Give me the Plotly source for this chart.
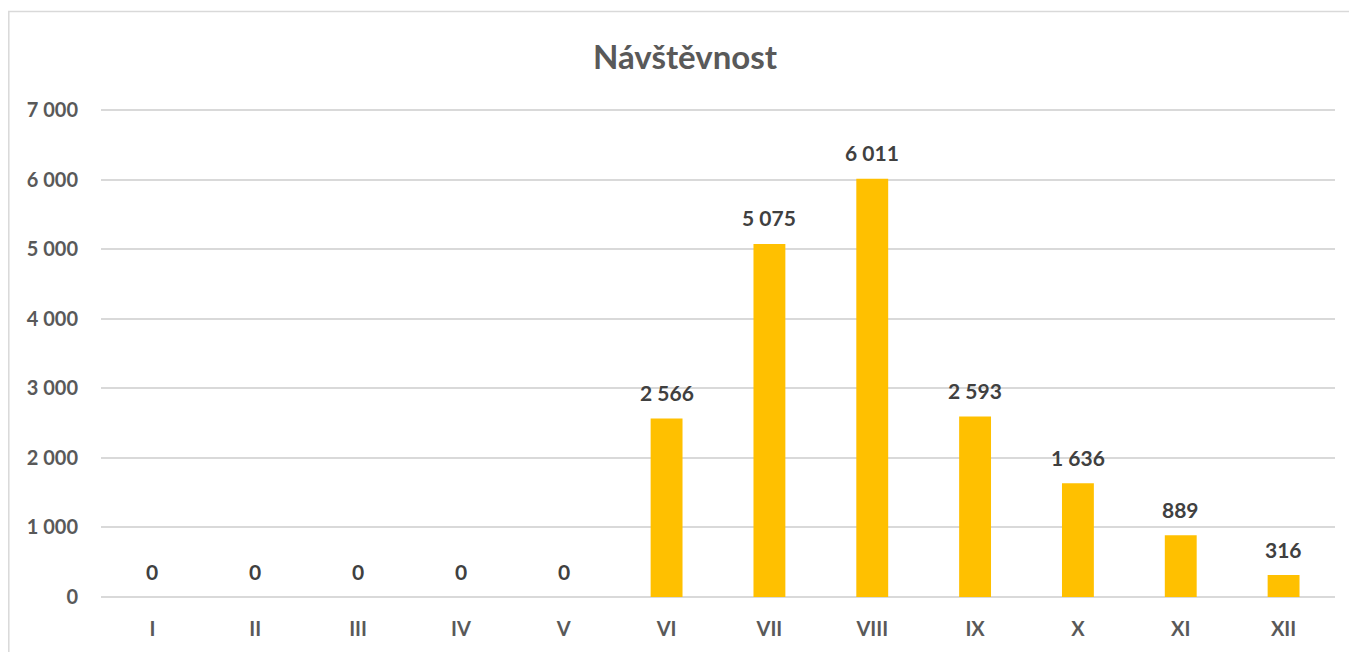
import plotly.graph_objects as go

months = ["I", "II", "III", "IV", "V", "VI", "VII", "VIII", "IX", "X", "XI", "XII"]
visits = [0, 0, 0, 0, 0, 2566, 5075, 6011, 2593, 1636, 889, 316]
y_ticks = [0, 1000, 2000, 3000, 4000, 5000, 6000, 7000]

OFF = 8  # page body margin
Y_MAX = 7015
W, H = 1357 - OFF, 652 - OFF
ml, mr, mb = 101 - OFF, 22, 55
ph_target = 487 * Y_MAX / 7000
mt = H - mb - ph_target
pw, ph = W - ml - mr, H - mt - mb

def px_to_paper_x(px):
    return (px - OFF - ml) / pw

def px_to_paper_y(py):
    return (H + OFF - mb - py) / ph

FONT = "Lato, sans-serif"

fig = go.Figure(go.Bar(
    x=months, y=visits,
    marker=dict(color="#FFC000", line=dict(width=0)),
    hoverinfo="x+y",
))

for m, v in zip(months, visits):
    fig.add_annotation(x=m, y=v, text="<b>" + f"{v:,}".replace(",", " ") + "</b>",
                       showarrow=False, yanchor="middle", xanchor="center", yshift=26,
                       font=dict(family=FONT, size=21, color="#404040"))

fig.update_layout(
    width=W, height=H,
    margin=dict(l=ml, r=mr, t=mt, b=mb),
    paper_bgcolor="white", plot_bgcolor="white",
    separators=", ",
    bargap=0.69,
    showlegend=False,
    title=dict(text="<b>Návštěvnost</b>", x=(685 - OFF) / W, xanchor="center",
               y=1 - (57 - OFF) / H, yanchor="middle",
               font=dict(family=FONT, size=33, color="#595959")),
    xaxis=dict(showgrid=False, zeroline=False, showline=False, ticks="",
               ticklabelstandoff=18,
               tickfont=dict(family=FONT, size=20, color="#595959", weight="bold")),
    yaxis=dict(range=[0, Y_MAX], tickvals=y_ticks, tickformat=",d",
               showgrid=True, gridcolor="#D9D9D9", gridwidth=1.5,
               zeroline=True, zerolinecolor="#D9D9D9", zerolinewidth=1.5,
               showline=False, ticks="", ticklabelstandoff=22,
               tickfont=dict(family=FONT, size=20, color="#595959", weight="bold")),
    shapes=[dict(type="rect", xref="paper", yref="paper",
                 x0=px_to_paper_x(8.8), x1=px_to_paper_x(1362),
                 y0=px_to_paper_y(660), y1=px_to_paper_y(11.5),
                 line=dict(color="#D9D9D9", width=1.5), fillcolor="rgba(0,0,0,0)", layer="below")],
)

fig.write_html("out.html")
